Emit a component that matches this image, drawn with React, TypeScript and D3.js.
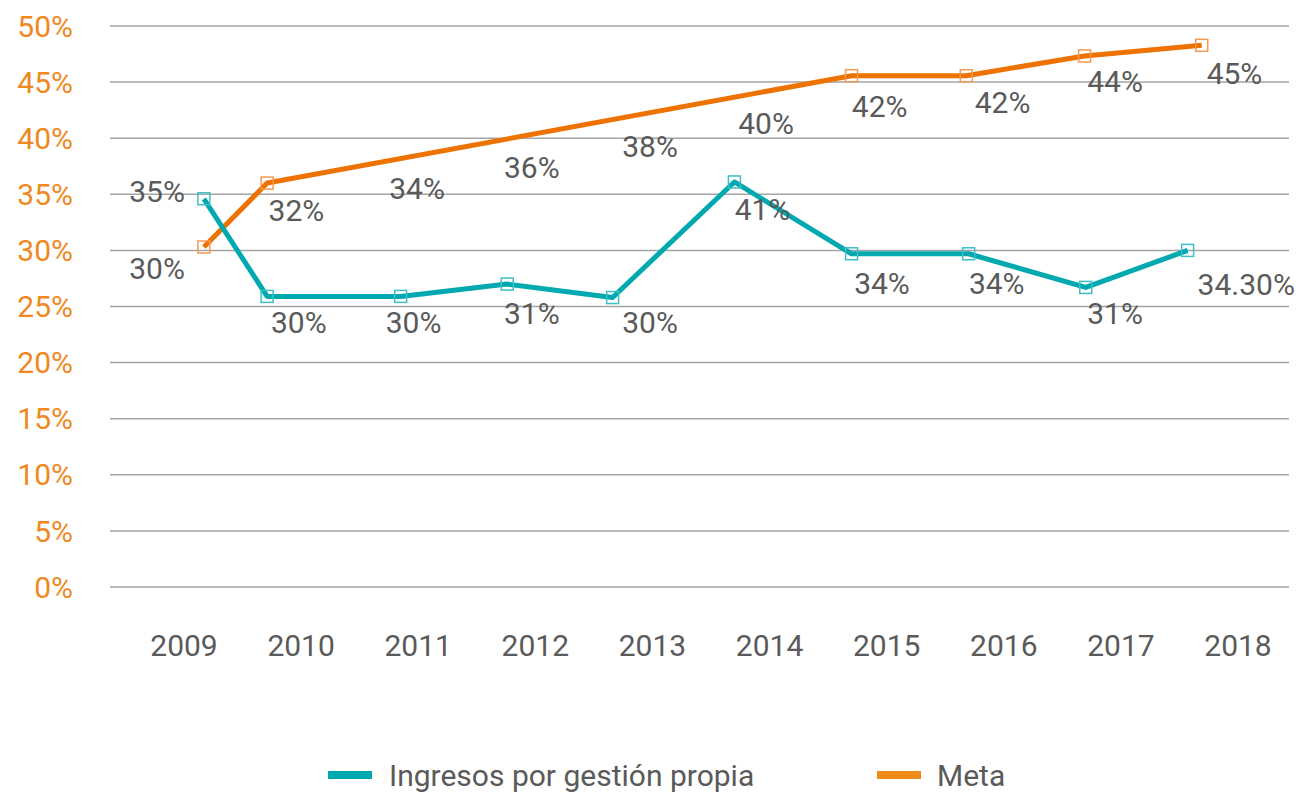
import React from 'react';
import * as d3 from 'd3';

// categories and axis
const years = ['2009', '2010', '2011', '2012', '2013', '2014', '2015', '2016', '2017', '2018'];
const yTicks = [0, 5, 10, 15, 20, 25, 30, 35, 40, 45, 50];

// Ingresos por gestión propia (x in category units, y in %)
const ingresosX = [0.17, 0.71, 1.85, 2.76, 3.66, 4.7, 5.7, 6.7, 7.7, 8.57];
const ingresosY = [34.6, 25.9, 25.9, 27.0, 25.8, 36.1, 29.7, 29.7, 26.7, 30.0];
const ingresosLabels = ['35%', '30%', '30%', '31%', '30%', '41%', '34%', '34%', '31%', '34.30%'];
const ingresosLabelX = [-0.23, 0.98, 1.96, 2.97, 3.98, 4.94, 5.96, 6.94, 7.95, 9.07];
const ingresosLabelY = [35.25, 23.57, 23.57, 24.38, 23.57, 33.69, 27.05, 27.05, 24.38, 27.0];

// Meta (2011-2014 have no plotted point)
const metaX = [0.17, 0.71, null, null, null, null, 5.7, 6.68, 7.69, 8.69];
const metaY = [30.3, 36.0, null, null, null, null, 45.57, 45.57, 47.33, 48.28];
const metaLabels = ['30%', '32%', '34%', '36%', '38%', '40%', '42%', '42%', '44%', '45%'];
const metaLabelX = [-0.23, 0.96, 1.99, 2.97, 3.98, 4.97, 5.94, 6.99, 7.95, 8.97];
const metaLabelY = [28.39, 33.56, 35.52, 37.39, 39.3, 41.35, 42.87, 43.18, 45.05, 45.77];

const TEAL = '#00a8b0';
const TEAL_LIGHT = '#3fbfc5';
const ORANGE = '#ee7200';
const ORANGE_LIGHT = '#f39a52';
const AXIS_ORANGE = '#f0881e';
const GRAY_TEXT = '#5a5a5a';
const FONT = 'Roboto, sans-serif';

export default function App() {
  const width = 1302;
  const height = 794;
  const plotLeft = 110;
  const plotRight = 1289;

  const x = d3.scaleLinear().domain([0, 9]).range([184, 1238]);
  const y = d3.scaleLinear().domain([0, 50]).range([587, 26]);

  const ingresosPts = ingresosX.map((v, i) => [v, ingresosY[i]] as [number, number]);
  const metaPts = metaX
    .map((v, i) => [v, metaY[i]])
    .filter(d => d[0] != null && d[1] != null) as [number, number][];

  const line = d3.line<[number, number]>()
    .x(d => x(d[0]))
    .y(d => y(d[1]));

  const m = 12; // marker size

  return (
    <svg width={width} height={height} style={{ position: 'absolute', left: 0, top: 0 }} fontFamily={FONT}>
      <rect width={width} height={height} fill="#fff" />
      {/* grid */}
      {yTicks.map(t => (
        <line key={t} x1={plotLeft} x2={plotRight} y1={y(t)} y2={y(t)} stroke="#a5a5a5" strokeWidth={1.5} />
      ))}
      {/* y labels */}
      {yTicks.map(t => (
        <text key={'yl' + t} x={73} y={y(t)} dy="0.355em" textAnchor="end" fontSize={30} fill={AXIS_ORANGE}>
          {t + '%'}
        </text>
      ))}
      {/* x labels */}
      {years.map((yr, i) => (
        <text key={yr} x={x(i)} y={645} dy="0.355em" textAnchor="middle" fontSize={30} fill={GRAY_TEXT}>
          {yr}
        </text>
      ))}

      {/* lines */}
      <path d={line(metaPts) || ''} fill="none" stroke={ORANGE} strokeWidth={5} strokeLinejoin="round" />
      <path d={line(ingresosPts) || ''} fill="none" stroke={TEAL} strokeWidth={5} strokeLinejoin="round" />

      {/* markers */}
      {metaPts.map((d, i) => (
        <rect key={'mm' + i} x={x(d[0]) - m / 2} y={y(d[1]) - m / 2} width={m} height={m}
          fill="none" stroke={ORANGE_LIGHT} strokeWidth={1.5} />
      ))}
      {ingresosPts.map((d, i) => (
        <rect key={'im' + i} x={x(d[0]) - m / 2} y={y(d[1]) - m / 2} width={m} height={m}
          fill="none" stroke={TEAL_LIGHT} strokeWidth={1.5} />
      ))}

      {/* data labels */}
      {metaLabels.map((l, i) => (
        <text key={'ml' + i} x={x(metaLabelX[i])} y={y(metaLabelY[i])} dy="0.355em" textAnchor="middle"
          fontSize={30} fill={GRAY_TEXT}>{l}</text>
      ))}
      {ingresosLabels.map((l, i) => (
        <text key={'il' + i} x={x(ingresosLabelX[i])} y={y(ingresosLabelY[i])} dy="0.355em" textAnchor="middle"
          fontSize={30} fill={GRAY_TEXT}>{l}</text>
      ))}

      {/* legend */}
      <g>
        <rect x={328} y={771} width={44} height={8} fill={TEAL} />
        <text x={389} y={775} dy="0.355em" fontSize={30} fill={GRAY_TEXT}>Ingresos por gestión propia</text>
        <rect x={877} y={771} width={44} height={8} fill="#f08a19" />
        <text x={937} y={775} dy="0.355em" fontSize={30} fill={GRAY_TEXT}>Meta</text>
      </g>
    </svg>
  );
}
